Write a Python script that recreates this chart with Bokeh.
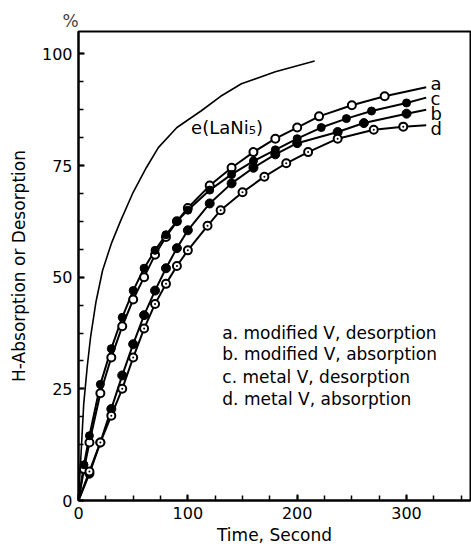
from bokeh.plotting import figure
from bokeh.models import FixedTicker, Range1d
from bokeh.core.properties import value
from bokeh.embed import file_html
from bokeh.resources import INLINE

FONT = "DejaVu Sans"

# LaNi5 reference curve (e)
t_e = [0, 2, 4.8, 8, 11, 16, 22, 30, 38.5, 50, 62, 73, 90, 112, 130, 149, 180, 216]
y_e = [0, 9, 21.7, 30, 36.5, 44.5, 51.5, 57.5, 62.6, 69, 74.5, 79, 83.5, 87.2, 90.5, 93.3, 96, 98.4]

# a. modified V, desorption (open circles)
t_a = [0, 5, 10, 20, 30, 40, 50, 60, 70, 80, 90, 100, 120, 140, 160, 180, 200, 220, 250, 280, 318]
y_a = [0, 7, 13, 24, 32, 39, 45, 50, 55, 59, 62.5, 65.5, 70.5, 74.5, 78, 81, 83.5, 86, 88.5, 90.5, 92.5]

# b. modified V, absorption (filled circles)
t_b = [0, 10, 20, 30, 40, 50, 60, 70, 80, 90, 100, 120, 140, 160, 180, 200, 237, 261, 300, 318]
y_b = [0, 6, 13, 20.5, 28, 35, 41.5, 47, 52, 56.5, 60.5, 66.5, 71, 74.5, 77.5, 80, 82.5, 84.5, 86.6, 87.5]

# c. metal V, desorption (filled circles)
t_c = [0, 5, 10, 20, 30, 40, 50, 60, 70, 80, 90, 100, 120, 140, 160, 180, 200, 222, 245, 268, 300, 318]
y_c = [0, 8, 14.5, 26, 34, 41, 47, 52, 56, 59.5, 62.5, 65, 69.5, 73, 76, 78.5, 81, 83.5, 85.5, 87.2, 89, 90.2]

# d. metal V, absorption (dotted circles)
t_d = [0, 10, 20, 30, 40, 50, 60, 70, 80, 90, 100, 118, 130, 150, 170, 190, 210, 237, 270, 297, 318]
y_d = [0, 6.5, 13, 19, 25, 32, 38.5, 44, 48.5, 52.5, 56, 61.5, 65, 69, 72.5, 75.5, 78, 81, 83, 83.7, 84]

curve_labels = ["a", "c", "b", "d"]
curve_label_y = [93.3, 90.0, 86.6, 83.2]
curve_label_x = [322, 322, 322, 322]

legend_lines = ["a. modified V, desorption", "b. modified V, absorption",
                "c. metal V, desorption", "d. metal V, absorption"]
legend_y = [37.6, 32.9, 27.7, 22.8]
legend_x = [131.5, 131.5, 131.5, 131.5]

x_major = [0, 100, 200, 300]
x_minor = [25 * i for i in range(15)]
y_major = [0, 25, 50, 75, 100]
y_minor = [6.25 * i for i in range(17)]

p = figure(frame_width=392, frame_height=469, output_backend="svg", toolbar_location=None,
           x_range=Range1d(0, 358.5), y_range=Range1d(0, 105),
           min_border_left=78, min_border_right=1, min_border_top=31, min_border_bottom=0,
           title="%")
p.title.text_font = FONT
p.title.text_font_size = "17px"
p.title.text_font_style = "normal"
p.title.align = "left"
p.title.offset = -16
p.title.standoff = 2
p.background_fill_color = "white"
p.border_fill_color = "white"
p.outline_line_color = "black"
p.outline_line_width = 2
p.grid.visible = False

for ax in (p.xaxis[0], p.yaxis[0]):
    ax.axis_line_width = 2
    ax.major_tick_line_width = 2
    ax.minor_tick_line_width = 1.5
    ax.major_tick_in = 6
    ax.major_tick_out = 0
    ax.minor_tick_in = 5
    ax.minor_tick_out = 0
    ax.major_label_text_font = FONT
    ax.major_label_text_font_size = "16px"
    ax.major_label_text_color = "black"
    ax.axis_label_text_font = FONT
    ax.axis_label_text_font_size = "17px"
    ax.axis_label_text_font_style = "normal"
    ax.axis_label_text_color = "black"

p.xaxis.ticker = FixedTicker(ticks=x_major, minor_ticks=x_minor)
p.yaxis.ticker = FixedTicker(ticks=y_major, minor_ticks=y_minor)
p.xaxis.axis_label = "Time, Second"
p.yaxis.axis_label = "H-Absorption or Desorption"
p.xaxis.major_label_standoff = 6
p.xaxis.axis_label_standoff = 3
p.yaxis.major_label_standoff = 6
p.yaxis.axis_label_standoff = 10

# curves
p.line(t_e, y_e, line_color="black", line_width=1.6)
p.line(t_a, y_a, line_color="black", line_width=2)
p.line(t_b, y_b, line_color="black", line_width=2)
p.line(t_c, y_c, line_color="black", line_width=2)
p.line(t_d, y_d, line_color="black", line_width=2)

# markers (skip origin and line end)
p.scatter(t_a[1:-1], y_a[1:-1], marker="circle", size=8, fill_color="white",
          line_color="black", line_width=2)
p.scatter(t_b[1:-1], y_b[1:-1], marker="circle", size=9, fill_color="black",
          line_color="black", line_width=1)
p.scatter(t_c[1:-1], y_c[1:-1], marker="circle", size=8, fill_color="black",
          line_color="black", line_width=1)
p.scatter(t_d[1:-1], y_d[1:-1], marker="circle_dot", size=8, fill_color="white",
          line_color="black", line_width=2)

p.text(x=curve_label_x, y=curve_label_y, text=curve_labels, text_font=value(FONT),
       text_font_size="18px", text_baseline="middle", text_align="left", text_color="black")
p.text(x=legend_x, y=legend_y, text=legend_lines, text_font=value(FONT),
       text_font_size="17px", text_baseline="middle", text_align="left", text_color="black")
p.text(x=[103], y=[83.4], text=["e(LaNi₅)"], text_font=value(FONT), text_font_size="18px",
       text_baseline="middle", text_align="left", text_color="black")

open("out.html", "w").write(file_html(p, INLINE))
